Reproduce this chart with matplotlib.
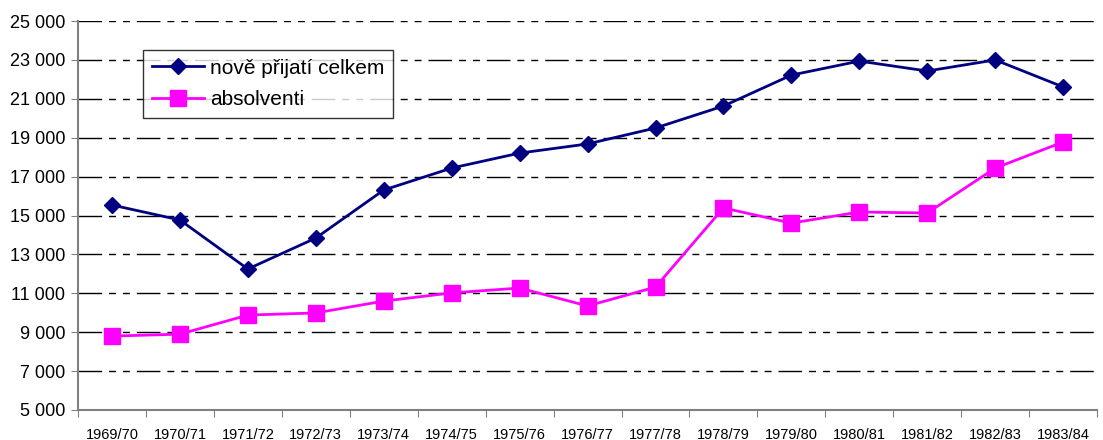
import matplotlib.pyplot as plt
from matplotlib.ticker import FixedLocator, FuncFormatter, NullFormatter

plt.rcParams['font.family'] = ['Liberation Sans', 'DejaVu Sans']

# school years
years = ["1969/70", "1970/71", "1971/72", "1972/73", "1973/74", "1974/75",
         "1975/76", "1976/77", "1977/78", "1978/79", "1979/80", "1980/81",
         "1981/82", "1982/83", "1983/84"]

# newly admitted total
prijati = [15540, 14770, 12250, 13840, 16310, 17440, 18210, 18680,
           19500, 20630, 22220, 22940, 22430, 23000, 21610]

# graduates
absolventi = [8800, 8900, 9880, 9990, 10600, 11020, 11270, 10350,
              11320, 15390, 14610, 15180, 15130, 17440, 18780]

y_ticks = list(range(5000, 25001, 2000))

fig = plt.figure(figsize=(11.03, 4.40), dpi=100)
ax = fig.add_axes([0.0707, 0.0682, 0.924, 0.884])

x = list(range(len(years)))

# grid lines (long - short - short dash)
for v in y_ticks[1:]:
    ax.axhline(v, color='black', lw=1.0, dashes=(17, 5, 5, 5, 5, 5), zorder=1)

ax.plot(x, prijati, color='#000080', lw=2, marker='D', markersize=8,
        label='nově přijatí celkem', zorder=3)
ax.plot(x, absolventi, color='#FF00FF', lw=2, marker='s', markersize=11,
        label='absolventi', zorder=3)

ax.set_xlim(-0.5, len(years) - 0.5)
ax.set_ylim(5000, 25000)

ax.xaxis.set_major_locator(FixedLocator([i - 0.5 for i in range(len(years))] + [len(years) - 0.5]))
ax.xaxis.set_major_formatter(NullFormatter())
ax.xaxis.set_minor_locator(FixedLocator(x))
ax.set_xticklabels(years, minor=True)
ax.tick_params(axis='x', which='major', length=5, color='#808080', direction='out')
ax.tick_params(axis='x', which='minor', length=0, labelsize=10.5, pad=13)

ax.yaxis.set_major_locator(FixedLocator(y_ticks))
ax.yaxis.set_major_formatter(FuncFormatter(lambda v, p: f"{int(v):,}".replace(",", " ")))
ax.tick_params(axis='y', length=5, color='#808080', labelsize=13, pad=4)

for s in ['top', 'right']:
    ax.spines[s].set_visible(False)
for s in ['left', 'bottom']:
    ax.spines[s].set_color('#808080')
    ax.spines[s].set_linewidth(1.5)

leg = ax.legend(loc='upper left', bbox_to_anchor=(0.064, 0.925), fontsize=15,
                frameon=True, fancybox=False, edgecolor='black',
                handlelength=2.5, handletextpad=0.3, borderpad=0.4,
                labelspacing=0.62, borderaxespad=0)
leg.get_frame().set_linewidth(1.0)

fig.savefig('out.png', dpi=100)
